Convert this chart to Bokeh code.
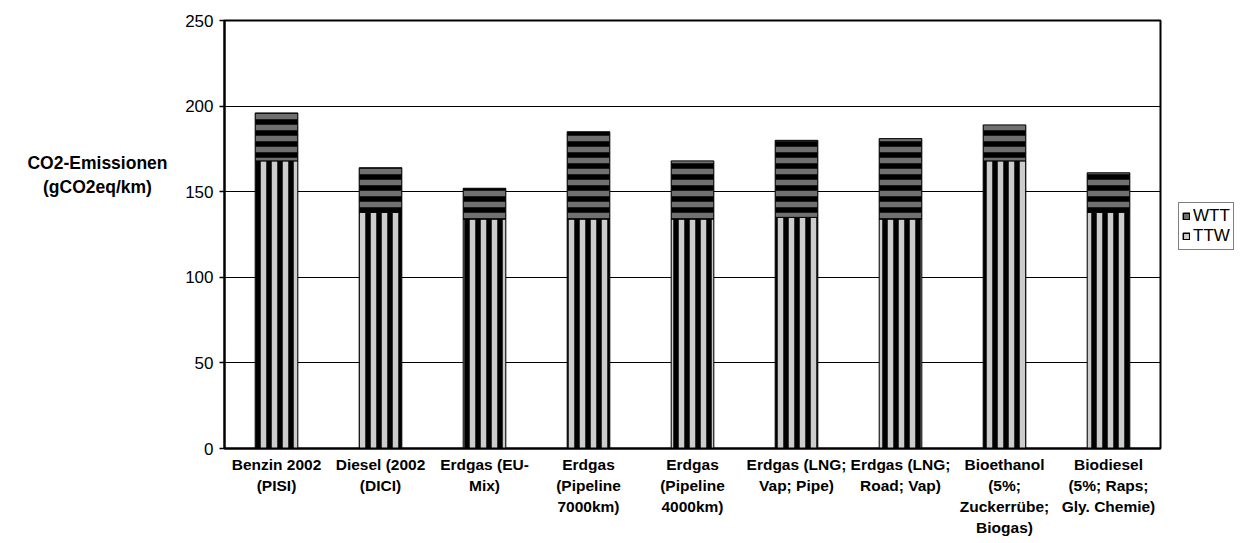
from bokeh.plotting import figure
from bokeh.layouts import row
from bokeh.models import ColumnDataSource, FactorRange, FixedTicker, Legend, LegendItem
from bokeh.core.properties import value
from bokeh.embed import file_html
from bokeh.resources import INLINE

categories = [
    "Benzin 2002\n(PISI)",
    "Diesel (2002\n(DICI)",
    "Erdgas (EU-\nMix)",
    "Erdgas\n(Pipeline\n7000km)",
    "Erdgas\n(Pipeline\n4000km)",
    "Erdgas (LNG;\nVap; Pipe)",
    "Erdgas (LNG;\nRoad; Vap)",
    "Bioethanol\n(5%;\nZuckerrübe;\nBiogas)",
    "Biodiesel\n(5%; Raps;\nGly. Chemie)",
]
ttw = [168, 138, 134, 134, 134, 135, 134, 168, 138]
wtt = [28, 26, 18, 51, 34, 45, 47, 21, 23]
y_ticks = [0, 50, 100, 150, 200, 250]
series_names = ["WTT", "TTW"]
y_title = "CO2-Emissionen\n(gCO2eq/km)"

FONT = "Liberation Sans"
W, H = 1245, 543
LEFT_W = 180
RIGHT_W = 83
TOP, BOTTOM = 20, 95

total = [a + b for a, b in zip(ttw, wtt)]
src = ColumnDataSource(dict(cat=categories, ttw=ttw, wtt=wtt, total=total, zero=[0] * len(ttw)))

# --- left panel holding the y-axis title ---
pl = figure(x_range=(0, LEFT_W), y_range=(0, 250), width=LEFT_W, height=H,
            output_backend="svg", toolbar_location=None,
            x_axis_location=None, y_axis_location=None,
            min_border_left=0, min_border_right=0, min_border_top=TOP, min_border_bottom=BOTTOM)
pl.grid.visible = False
pl.outline_line_color = None
pl.text(x=[97], y=[159.5], text=[y_title], text_font=value(FONT), text_font_size="17.5px",
        text_font_style="bold", text_align="center", text_baseline="middle",
        text_line_height=1.2, text_color="black")

# --- main chart ---
p = figure(
    x_range=FactorRange(*categories, range_padding=0),
    y_range=(0, 250),
    width=W - LEFT_W - RIGHT_W, height=H,
    output_backend="svg", toolbar_location=None,
    min_border_left=224 - LEFT_W, min_border_right=2, min_border_top=TOP, min_border_bottom=BOTTOM,
)

p.vbar(x="cat", bottom="zero", top="ttw", width=0.41, source=src,
       fill_color="black", hatch_pattern="vertical_line", hatch_color="#cccccc",
       hatch_weight=5.5, hatch_scale=11, line_color="black", line_width=1)
p.vbar(x="cat", bottom="ttw", top="total", width=0.41, source=src,
       fill_color="black", hatch_pattern="horizontal_line", hatch_color="#707070",
       hatch_weight=5.5, hatch_scale=11, line_color="black", line_width=1)

p.yaxis.ticker = FixedTicker(ticks=y_ticks)
p.yaxis.major_label_text_font = FONT
p.yaxis.major_label_text_font_size = "17px"
p.yaxis.major_label_text_color = "black"
p.yaxis.major_tick_out = 5
p.yaxis.major_tick_in = 0
p.yaxis.minor_tick_out = 0
p.yaxis.minor_tick_in = 0
p.yaxis.major_label_standoff = 6
p.yaxis.axis_line_color = "black"
p.yaxis.axis_line_width = 2
p.yaxis.major_tick_line_color = "black"
p.yaxis.major_tick_line_width = 1.5

p.xaxis.major_label_text_font = FONT
p.xaxis.major_label_text_font_size = "15.5px"
p.xaxis.major_label_text_font_style = "bold"
p.xaxis.major_label_text_color = "black"
p.xaxis.major_label_text_line_height = 1.25
p.xaxis.major_tick_out = 0
p.xaxis.major_tick_in = 0
p.xaxis.major_label_standoff = 7
p.xaxis.axis_line_color = "black"
p.xaxis.axis_line_width = 2
p.xaxis.major_label_orientation = "horizontal"

p.xgrid.grid_line_color = None
p.ygrid.grid_line_color = "black"
p.ygrid.grid_line_width = 1
p.ygrid.ticker = FixedTicker(ticks=y_ticks)

p.outline_line_color = "black"
p.outline_line_width = 2
p.background_fill_color = "white"
p.border_fill_color = "white"

# --- right panel holding the legend ---
# swatch renderers: zero-height bars far to the right of this panel's x range (never visible)
pr = figure(x_range=(-51, -50), y_range=(0, 250), width=RIGHT_W, height=H,
            output_backend="svg", toolbar_location=None,
            x_axis_location=None, y_axis_location=None,
            min_border_left=0, min_border_right=0, min_border_top=TOP, min_border_bottom=BOTTOM)
pr.grid.visible = False
pr.outline_line_color = None
l_wtt = pr.vbar(x="zero", bottom="zero", top="zero", width=0.01, source=src,
                fill_color="#707070", line_color="black", line_width=1.5)
l_ttw = pr.vbar(x="zero", bottom="zero", top="zero", width=0.01, source=src,
                fill_color="#cccccc", line_color="black", line_width=1.5)

legend = Legend(items=[LegendItem(label=series_names[0], renderers=[l_wtt]),
                       LegendItem(label=series_names[1], renderers=[l_ttw])],
                location=(16, 198))
legend.label_text_font = FONT
legend.label_text_font_size = "17px"
legend.label_text_color = "black"
legend.glyph_width = 8
legend.glyph_height = 8
legend.label_standoff = 3
legend.spacing = 0
legend.padding = 3
legend.margin = 0
legend.label_height = 19
legend.border_line_color = "black"
legend.border_line_width = 1.5
pr.add_layout(legend)

layout = row(pl, p, pr, spacing=0)
open("out.html", "w").write(file_html(layout, INLINE))
